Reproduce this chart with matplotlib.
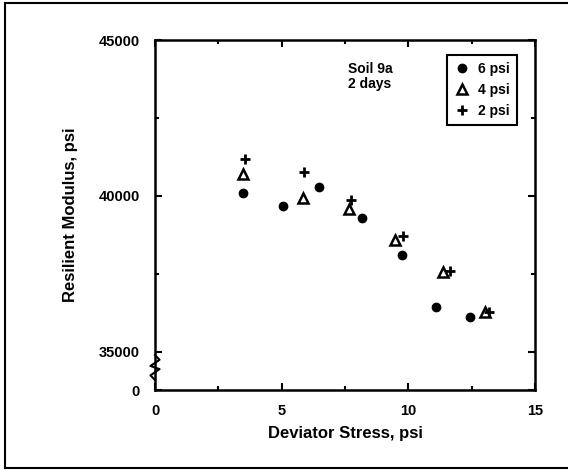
import numpy as np
import matplotlib
matplotlib.use('Agg')
import matplotlib.pyplot as plt
from matplotlib.lines import Line2D
import matplotlib.transforms as mtransforms

plt.rcParams['font.family'] = ['Liberation Sans', 'DejaVu Sans']
plt.rcParams['font.weight'] = 'bold'

# data
x_6psi = [3.46, 5.04, 6.49, 8.16, 9.75, 11.10, 12.43]
y_6psi = [40090, 39690, 40290, 39290, 38100, 36450, 36120]

x_4psi = [3.49, 5.86, 7.66, 9.49, 11.38, 13.03]
y_4psi = [40700, 39930, 39570, 38590, 37570, 36290]

x_2psi = [3.57, 5.88, 7.73, 9.78, 11.65, 13.20]
y_2psi = [41190, 40780, 39870, 38720, 37610, 36290]

xticks = [0, 5, 10, 15]
xtick_labels = ['0', '5', '10', '15']
y_zero = 33780  # where the broken axis shows "0"
yticks = [y_zero, 35000, 40000, 45000]
ytick_labels = ['0', '35000', '40000', '45000']

fig = plt.figure(figsize=(5.68, 4.70), dpi=100)
ax = fig.add_axes([155/568, 80/470, 380/568, 350/470])

ax.plot(x_6psi, y_6psi, 'o', color='black', ms=6, ls='none', label='6 psi')
ax.plot(x_4psi, y_4psi, '^', mfc='none', mec='black', ms=7, mew=1.8, ls='none', label='4 psi')
ax.plot(x_2psi, y_2psi, '+', color='black', ms=7, mew=2, ls='none', label='2 psi')

ax.set_xlim(0, 15)
ax.set_ylim(y_zero, 45000)
ax.set_xticks(xticks)
ax.set_xticklabels(xtick_labels)
ax.set_xticks([2.5, 7.5, 12.5], minor=True)
ax.set_yticks(yticks)
ax.set_yticklabels(ytick_labels)
ax.set_yticks([37500, 42500], minor=True)
ax.tick_params(which='both', direction='in', top=True, right=True, labelsize=10.5, width=1.5)
ax.tick_params(which='major', length=5)
ax.tick_params(which='minor', length=3)
ax.tick_params(axis='x', pad=10)
ax.tick_params(axis='y', pad=11)
for s in ax.spines.values():
    s.set_linewidth(1.8)

ax.set_xlabel('Deviator Stress, psi', fontsize=12, fontweight='bold', labelpad=6)
ax.set_ylabel('Resilient Modulus, psi', fontsize=12, fontweight='bold', labelpad=15)

ax.text(7.62, 0.937, 'Soil 9a\n2 days', transform=ax.get_xaxis_transform(),
        fontsize=10, fontweight='bold', va='top', ha='left', linespacing=1.1)

leg = ax.legend(loc='upper right', bbox_to_anchor=(0.953, 0.957), borderaxespad=0,
                fancybox=False, edgecolor='black', framealpha=1, fontsize=10,
                handletextpad=0.6, handlelength=1.2, labelspacing=0.5, borderpad=0.5)
leg.get_frame().set_linewidth(1.5)

# axis break symbol
tr = mtransforms.blended_transform_factory(ax.transAxes, ax.transData)
bx = np.array([0, 0.012, -0.012, 0.012, -0.012, 0])
by = np.array([34900, 34750, 34550, 34450, 34250, 34100])
ax.plot(bx, by, color='black', lw=1.5, transform=tr, clip_on=False)

# outer frame
fig.add_artist(Line2D([5/568, 5/568], [1 - 3/470, 1 - 468/470], transform=fig.transFigure, color='black', lw=1.5))
fig.add_artist(Line2D([5/568, 1.0], [1 - 3/470, 1 - 3/470], transform=fig.transFigure, color='black', lw=1.5))
fig.add_artist(Line2D([5/568, 1.0], [1 - 468/470, 1 - 468/470], transform=fig.transFigure, color='black', lw=1.5))

fig.savefig('out.png', dpi=100)
